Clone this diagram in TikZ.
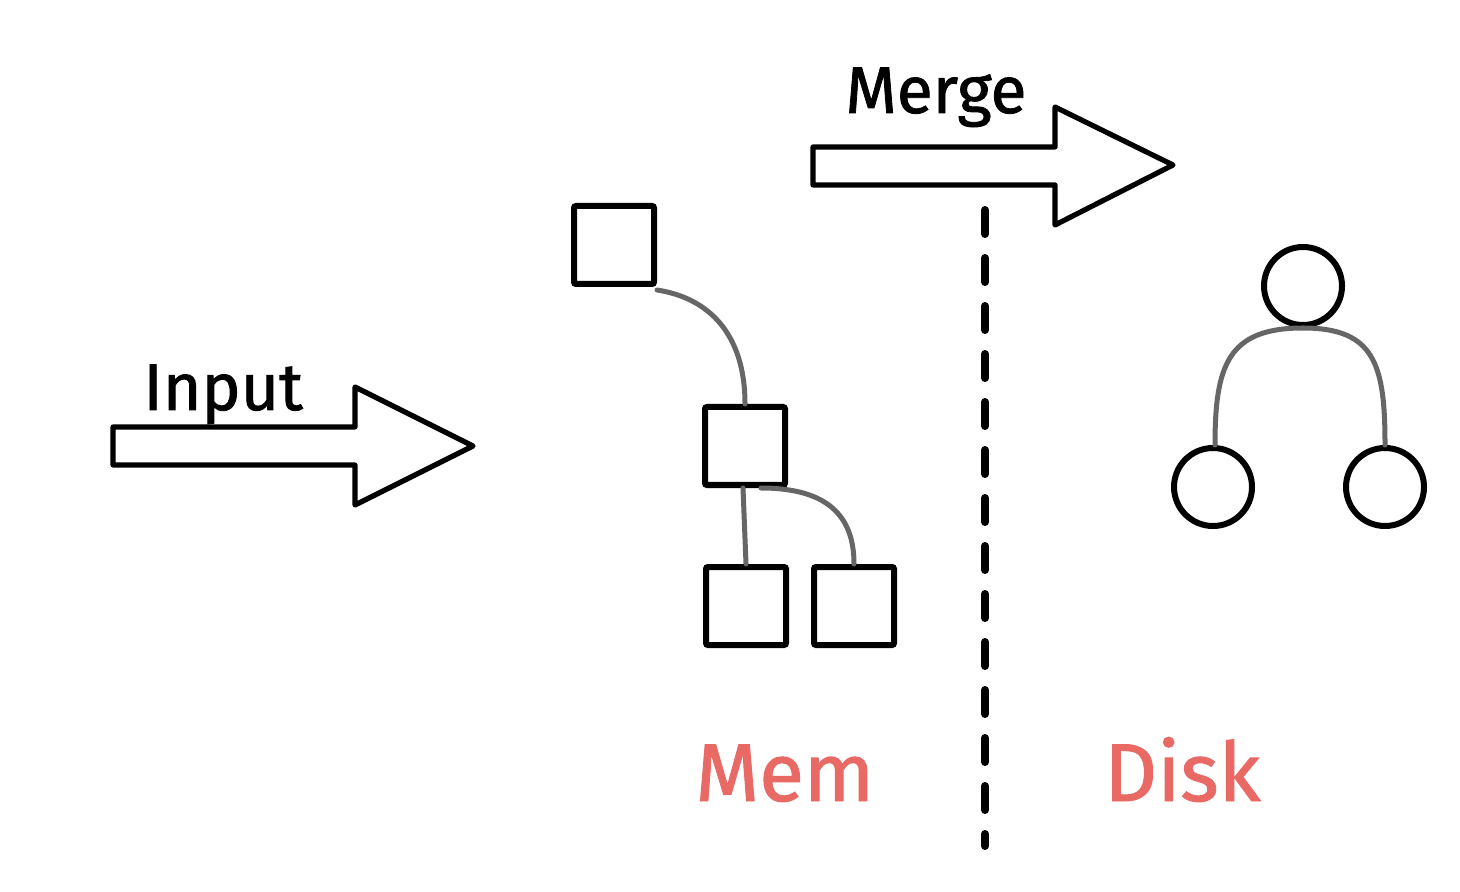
\documentclass[tikz,border=0pt]{standalone}
\usepackage{fontspec}
\setmainfont{Fira Sans}[FakeBold=1.2]
\definecolor{memred}{RGB}{233,106,101}
\definecolor{linkgray}{RGB}{102,102,102}
\begin{document}
\begin{tikzpicture}[x=0.5pt,y=-0.5pt,
  sq/.style={draw=black,line width=3pt,minimum width=40pt,minimum height=39pt,inner sep=0pt,rounded corners=1pt},
  circ/.style={draw=black,line width=3pt,circle,minimum size=39pt,inner sep=0pt},
  link/.style={draw=linkgray,line width=2.5pt,line cap=round},
  fatarrow/.style={draw=black,line width=2.6pt,line join=round,fill=white},
  lbl/.style={font=\fontsize{33}{36}\selectfont,anchor=base west,inner sep=0pt},
  side/.style={font=\fontsize{41}{46}\selectfont,text=memred,anchor=base west,inner sep=0pt},
  divider/.style={draw=black,line width=4pt,line cap=round,dash pattern=on 12pt off 12pt}]
\useasboundingbox (0,0) rectangle (1460,892);
\fill[white] (0,0) rectangle (1460,892);
% Input arrow
\draw[fatarrow] (113,427) -- (355,427) -- (355,387) -- (473,446) -- (355,505) -- (355,465) -- (113,465) -- cycle;
\node[lbl] (input) at (143,410) {Input};
% Merge arrow
\draw[fatarrow] (813,147) -- (1055,147) -- (1055,107) -- (1173,165) -- (1055,225) -- (1055,185) -- (813,185) -- cycle;
\node[lbl] (merge) at (845,113) {Merge};
% divider
\coordinate (dtop) at (985,210);
\coordinate (dbot) at (985,846);
\draw[divider] (dtop) -- (dbot);
% squares
\node[sq] (s1) at (614,245) {};
\node[sq] (s2) at (745,446) {};
\node[sq] (s3) at (746,606) {};
\node[sq] (s4) at (854,606) {};
% square links
\draw[link] ([yshift=-1.5pt]s1.south east) .. controls +(52,8) and +(0,-70) .. (s2.north);
\draw[link] ([xshift=-1pt]s2.south) -- (s3.north);
\draw[link] ([xshift=8pt]s2.south) .. controls +(70,0) and +(0,-45) .. (s4.north);
% circles
\node[circ] (c1) at (1303,286) {};
\node[circ] (c2) at (1213,487) {};
\node[circ] (c3) at (1385,487) {};
\draw[link] (c1.south) .. controls +(-75,0) and +(0,-80) .. ([xshift=1pt]c2.north);
\draw[link] (c1.south) .. controls +(72,0) and +(0,-80) .. (c3.north);
% labels
\node[side] (mem) at (695,801) {Mem};
\node[side] (disk) at (1104,801) {Disk};
\end{tikzpicture}
\end{document}
